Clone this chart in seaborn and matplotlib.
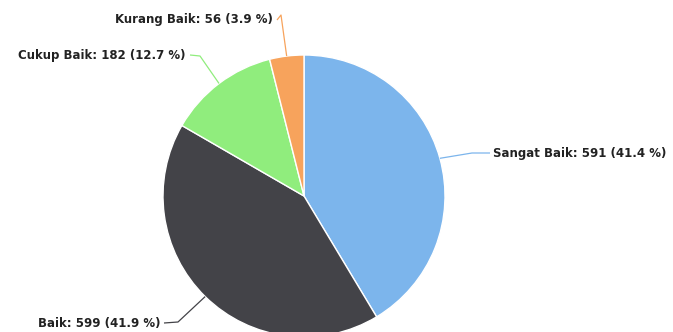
import numpy as np
import matplotlib
matplotlib.use("Agg")
import matplotlib.pyplot as plt
import seaborn as sns

# data
categories = ["Sangat Baik", "Baik", "Cukup Baik", "Kurang Baik"]
values = [591, 599, 182, 56]
colors = ["#7cb5ec", "#434348", "#90ed7d", "#f7a35c"]

# layout (pixels, y measured from the top)
W, H = 673, 332
cx, cy, r = 304, 196, 141
label_pos = [(493, 153, "left"), (160, 323, "right"), (186, 55, "right"), (273, 20, "right")]
elbow = [(472, 153), (178, 322), (200, 56), (281, 15)]

sns.set_theme(style="white")
plt.rcParams['font.family'] = ['DejaVu Sans']

fig = plt.figure(figsize=(W / 100, H / 100), dpi=100)
ax = fig.add_axes([0, 0, 1, 1])

wedges, _ = ax.pie(values, colors=sns.color_palette(colors), startangle=90, counterclock=False,
                   center=(cx, H - cy), radius=r,
                   wedgeprops=dict(edgecolor="white", linewidth=1))
ax.set_xlim(0, W)
ax.set_ylim(0, H)
ax.set_aspect("equal")
ax.axis("off")

total = sum(values)
for w, name, v, col, (lx, ly, ha), (ex, ey) in zip(wedges, categories, values, colors, label_pos, elbow):
    th = np.deg2rad((w.theta1 + w.theta2) / 2)
    px = cx + r * np.cos(th)
    py = (H - cy) + r * np.sin(th)
    sx = lx - 3 if ha == "left" else lx + 4
    ax.plot([sx, ex, px], [H - ly, H - ey, py], color=col, lw=0.9, solid_capstyle="butt")
    ax.text(lx, H - ly, f"{name}: {v} ({v / total * 100:.1f} %)", ha=ha, va="center",
            fontsize=8.5, fontweight="bold", color="#222222")

fig.savefig("out.png", dpi=100, facecolor="white")
